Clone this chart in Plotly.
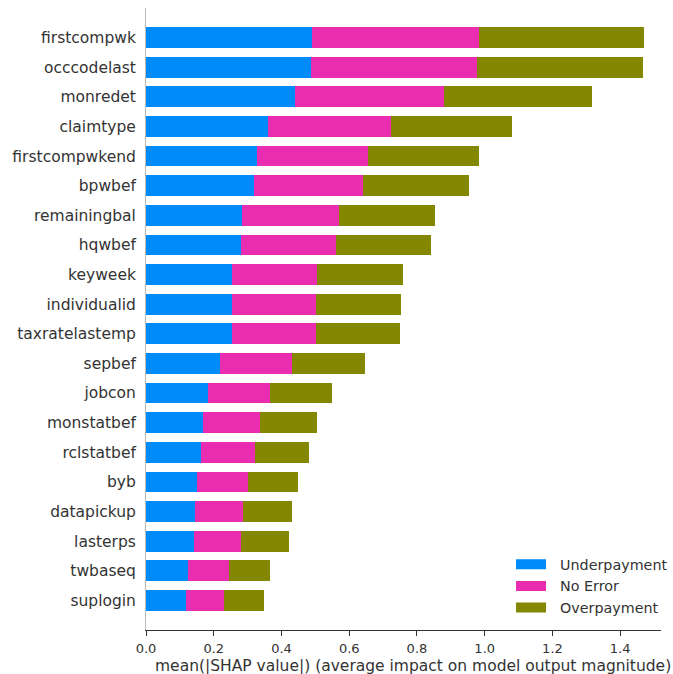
import plotly.graph_objects as go

features = ["firstcompwk", "occcodelast", "monredet", "claimtype", "firstcompwkend",
            "bpwbef", "remainingbal", "hqwbef", "keyweek", "individualid",
            "taxratelastemp", "sepbef", "jobcon", "monstatbef", "rclstatbef",
            "byb", "datapickup", "lasterps", "twbaseq", "suplogin"]
underpayment = [0.491, 0.488, 0.439, 0.360, 0.329, 0.318, 0.284, 0.281, 0.253, 0.253,
                0.253, 0.218, 0.184, 0.169, 0.162, 0.152, 0.144, 0.141, 0.124, 0.117]
no_error = [0.492, 0.489, 0.440, 0.362, 0.326, 0.323, 0.285, 0.280, 0.253, 0.249,
            0.249, 0.214, 0.183, 0.169, 0.160, 0.148, 0.142, 0.139, 0.121, 0.113]
overpayment = [0.488, 0.489, 0.437, 0.359, 0.329, 0.314, 0.284, 0.280, 0.252, 0.252,
               0.249, 0.214, 0.183, 0.167, 0.159, 0.149, 0.145, 0.142, 0.121, 0.118]
class_names = ["Underpayment", "No Error", "Overpayment"]
class_colors = ["#008bfb", "#e92cb0", "#848800"]
x_ticks = [0.0, 0.2, 0.4, 0.6, 0.8, 1.0, 1.2, 1.4]
x_ticktext = ["0.0", "0.2", "0.4", "0.6", "0.8", "1.0", "1.2", "1.4"]
x_title = "mean(|SHAP value|) (average impact on model output magnitude)"

FONT = "DejaVu Sans"
fig = go.Figure()
for name, vals, col in zip(class_names, [underpayment, no_error, overpayment], class_colors):
    fig.add_trace(go.Bar(x=vals, y=features, orientation="h", width=0.7,
                         marker=dict(color=col, line=dict(width=0)),
                         name=name, showlegend=False))
for name, col in zip(class_names, class_colors):
    fig.add_trace(go.Scatter(x=[None], y=[None], mode="lines", name="\u00a0\u00a0" + name,
                             line=dict(color=col, width=10), showlegend=True))

fig.update_layout(
    width=673, height=674, barmode="stack",
    margin=dict(l=146, r=0, t=8, b=44),
    paper_bgcolor="white", plot_bgcolor="white",
    font=dict(family=FONT, color="#333333"),
    legend=dict(x=0.709, y=0.131, xanchor="left", yanchor="top", traceorder="normal",
                bgcolor="rgba(0,0,0,0)", borderwidth=0, itemwidth=30,
                font=dict(size=14.3, color="#333333", family=FONT)),
    xaxis=dict(range=[0, 1.5205], tickvals=x_ticks, ticktext=x_ticktext,
               showgrid=False, zeroline=False, showline=True, linecolor="#333333",
               linewidth=1, ticks="outside", ticklen=5, tickcolor="#333333",
               ticklabelstandoff=1,
               tickfont=dict(size=13, color="#333333", family=FONT)),
    yaxis=dict(type="category", categoryorder="array", categoryarray=features,
               range=[20, -1], showgrid=False, zeroline=False, showline=True,
               linecolor="#bbbbbb", linewidth=1, ticks="", ticklabelstandoff=6,
               tickfont=dict(size=15.5, color="#333333", family=FONT)),
    annotations=[dict(text=x_title, xref="paper", yref="paper", x=0.0133, y=-0.058,
                      xanchor="left", yanchor="middle", showarrow=False,
                      font=dict(size=15.5, color="#333333", family=FONT))],
)
fig.write_html("out.html")
